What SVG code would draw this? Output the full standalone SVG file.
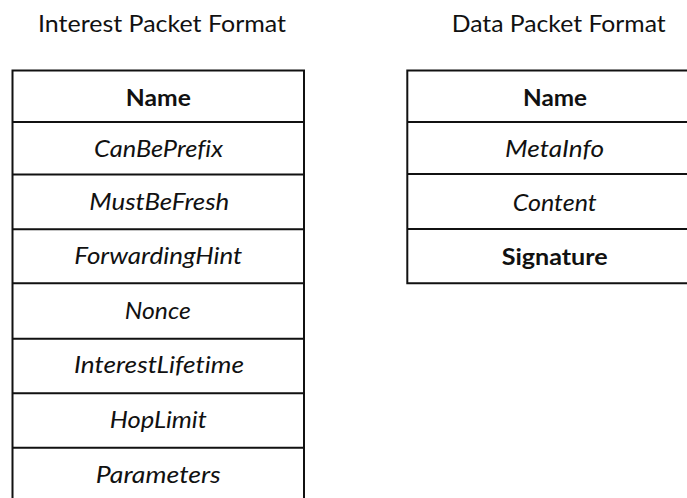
<svg xmlns="http://www.w3.org/2000/svg" width="687" height="498" viewBox="0 0 687 498">
<style>
  .t { font-family: Lato, "Open Sans", "Liberation Sans", sans-serif; font-size: 23px; fill: #111; text-anchor: middle; font-variant-ligatures: none; font-feature-settings: "liga" 0, "clig" 0; }
  .b { font-weight: bold; }
  .i { font-style: italic; }
  .ln { stroke: #111; stroke-width: 2; fill: none; }
</style>
<rect width="687" height="498" fill="#fff"/>
<g id="interest-title">
  <text class="t" x="162" y="32" textLength="248" lengthAdjust="spacingAndGlyphs">Interest Packet Format</text>
</g>
<g id="data-title">
  <text class="t" x="558.7" y="32" textLength="214" lengthAdjust="spacingAndGlyphs">Data Packet Format</text>
</g>
<g id="interest-packet">
  <path class="ln" d="M12.5 505 V70.5 H304 V505"/>
  <path class="ln" d="M12.5 122 H304 M12.5 174.5 H304 M12.5 229.3 H304 M12.5 283.3 H304 M12.5 338.7 H304 M12.5 393.3 H304 M12.5 447.7 H304"/>
  <text class="t b" x="158.3" y="106" textLength="65" lengthAdjust="spacingAndGlyphs">Name</text>
  <text class="t i" x="158.5" y="157" textLength="129" lengthAdjust="spacingAndGlyphs">CanBePrefix</text>
  <text class="t i" x="159.3" y="210" textLength="140" lengthAdjust="spacingAndGlyphs">MustBeFresh</text>
  <text class="t i" x="158.3" y="264" textLength="168" lengthAdjust="spacingAndGlyphs">ForwardingHint</text>
  <text class="t i" x="157.8" y="319" textLength="66" lengthAdjust="spacingAndGlyphs">Nonce</text>
  <text class="t i" x="159" y="373" textLength="170" lengthAdjust="spacingAndGlyphs">InterestLifetime</text>
  <text class="t i" x="158.3" y="428" textLength="97" lengthAdjust="spacingAndGlyphs">HopLimit</text>
  <text class="t i" x="158.3" y="483" textLength="125" lengthAdjust="spacingAndGlyphs">Parameters</text>
</g>
<g id="data-packet">
  <path class="ln" d="M695 70.5 H407.3 V283.3 H695"/>
  <path class="ln" d="M407.3 122 H695 M407.3 174 H695 M407.3 229 H695"/>
  <text class="t b" x="555" y="106" textLength="64" lengthAdjust="spacingAndGlyphs">Name</text>
  <text class="t i" x="554.5" y="157" textLength="99" lengthAdjust="spacingAndGlyphs">MetaInfo</text>
  <text class="t i" x="554.7" y="211" textLength="84" lengthAdjust="spacingAndGlyphs">Content</text>
  <text class="t b" x="554.7" y="265" textLength="106" lengthAdjust="spacingAndGlyphs">Signature</text>
</g>
<g id="connectors"></g>
</svg>
